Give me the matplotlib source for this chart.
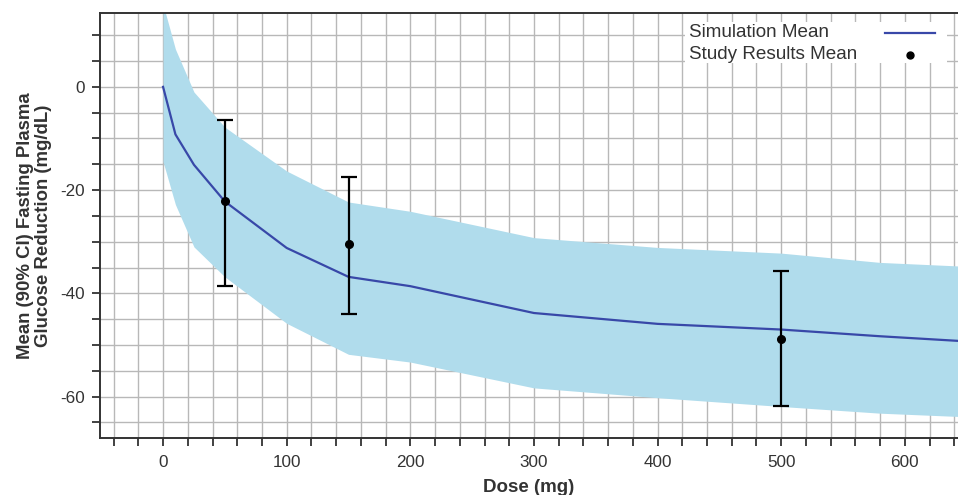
import numpy as np
import matplotlib
matplotlib.use("Agg")
import matplotlib.pyplot as plt
from matplotlib.lines import Line2D
from matplotlib.patches import Rectangle
from matplotlib.ticker import MultipleLocator

plt.rcParams['font.family'] = ['Liberation Sans', 'DejaVu Sans']
plt.rcParams['axes.unicode_minus'] = False

# simulated dose-response (mean and 90% CI band)
sim_dose = [0, 10, 25, 50, 100, 150, 200, 300, 400, 500, 580, 700]
sim_mean = [0, -9.2, -15.1, -22.2, -31.2, -36.8, -38.6, -43.8, -45.9, -47.0, -48.3, -50.0]
sim_upper = [16, 7.3, -1.0, -7.8, -16.3, -22.3, -24.1, -29.2, -31.1, -32.2, -34.0, -35.3]
sim_lower = [-14.5, -22.8, -31.0, -36.8, -45.8, -51.8, -53.3, -58.3, -60.2, -61.9, -63.2, -64.4]

# observed study results
study_dose = [50, 150, 500]
study_mean = [-22.2, -30.5, -48.9]
study_upper = [-6.5, -17.5, -35.7]
study_lower = [-38.5, -43.9, -61.9]

labels = ['Simulation Mean', 'Study Results Mean']
line_col = '#3848a8'
txt_col = '#333333'

fig = plt.figure(figsize=(9.58, 4.95), dpi=100)
ax = fig.add_axes([0.1044, 0.1152, 0.8956, 0.8585])

ax.fill_between(sim_dose, sim_lower, sim_upper, color='#b0dcec', lw=0, zorder=2)
ax.plot(sim_dose, sim_mean, color=line_col, lw=1.6, zorder=3)

sm = np.array(study_mean)
yerr = [sm - np.array(study_lower), np.array(study_upper) - sm]
ax.errorbar(study_dose, study_mean, yerr=yerr, fmt='o', color='black',
            ms=5.5, elinewidth=1.6, capsize=5.5, capthick=1.6, zorder=4)

ax.set_xlim(-51, 643)
ax.set_ylim(-68, 14.3)
ax.xaxis.set_major_locator(MultipleLocator(100))
ax.xaxis.set_minor_locator(MultipleLocator(20))
ax.yaxis.set_major_locator(MultipleLocator(20))
ax.yaxis.set_minor_locator(MultipleLocator(5))
ax.grid(which='both', color='#b8b8b8', lw=1.0)
ax.set_axisbelow(True)

ax.tick_params(which='both', direction='out', length=6, width=1.3, color=txt_col,
               labelsize=12.3, labelcolor=txt_col)
ax.tick_params(axis='x', pad=6)
ax.tick_params(axis='y', pad=5)
for side in ['left', 'bottom', 'top']:
    ax.spines[side].set_linewidth(1.4)
    ax.spines[side].set_color(txt_col)
ax.spines['right'].set_visible(False)

ax.set_xlabel('Dose (mg)', fontsize=13.5, fontweight='bold', color=txt_col, labelpad=7)
ax.set_ylabel('Mean (90% CI) Fasting Plasma\nGlucose Reduction (mg/dL)', fontsize=13.4,
              fontweight='bold', color=txt_col, labelpad=6, linespacing=1.05)

# legend: labels on the left, keys on the right, white box without border
ax.add_patch(Rectangle((0.682, 0.882), 0.305, 0.098, transform=ax.transAxes,
                       facecolor='white', edgecolor='none', zorder=5))
ax.text(0.686, 0.955, labels[0], transform=ax.transAxes, fontsize=13.6,
        color=txt_col, va='center', ha='left', zorder=6)
ax.text(0.686, 0.903, labels[1], transform=ax.transAxes, fontsize=13.6,
        color=txt_col, va='center', ha='left', zorder=6)
ax.add_line(Line2D([0.915, 0.973], [0.954, 0.954], transform=ax.transAxes,
                   color=line_col, lw=1.6, zorder=6))
ax.add_line(Line2D([0.944], [0.901], transform=ax.transAxes, color='black',
                   marker='o', ms=5, lw=0, zorder=6))

fig.savefig('out.png', dpi=100)
